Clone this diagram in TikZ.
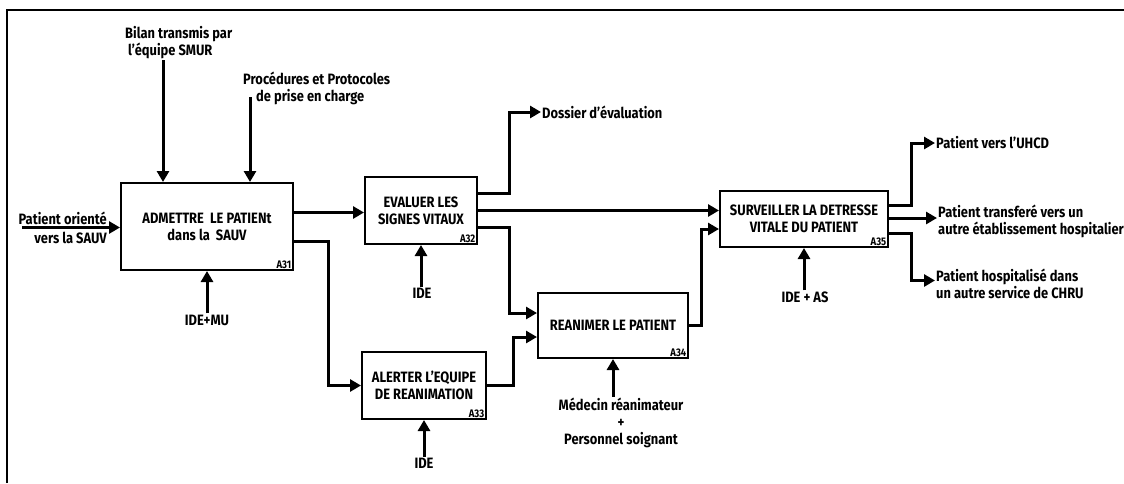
\documentclass[tikz,border=0pt]{standalone}
\usepackage{fontspec}
\setmainfont{Fira Sans}[FakeStretch=0.86]
\usetikzlibrary{arrows.meta}

\begin{document}
\begin{tikzpicture}[x=1pt,y=-1pt]
\tikzset{box/.style = {shape=rectangle,draw,line width=2pt,align=center,inner sep=0pt,font=\bfseries\fontsize{15}{17}\selectfont}}
\tikzset{lbl/.style = {align=center,inner sep=1pt,font=\bfseries\fontsize{15}{17}\selectfont}}
\tikzset{num/.style = {anchor=south east,inner sep=2.5pt,font=\bfseries\fontsize{11}{12}\selectfont}}
\tikzset{arr/.style = {line width=3pt,-{Triangle[length=11pt,width=12pt]}}}
\useasboundingbox (0,0) rectangle (1124,483);
% frame
\draw[line width=2.5pt] (7,483) -- (7,10) -- (1124,10);
% boxes
\node[box,minimum width=172pt,minimum height=87pt] (a31) at (207,226.5) {ADMETTRE\ \ LE PATIENt\\dans la\ \ SAUV};
\node[box,minimum width=112pt,minimum height=67pt] (a32) at (421,210.5) {EVALUER LES\\SIGNES VITAUX};
\node[box,minimum width=124pt,minimum height=67pt] (a33) at (424,385.5) {ALERTER L'EQUIPE\\DE REANIMATION};
\node[box,minimum width=150pt,minimum height=65pt] (a34) at (613,325.5) {REANIMER LE PATIENT};
\node[box,minimum width=168pt,minimum height=56pt] (a35) at (804,219) {SURVEILLER LA DETRESSE\\VITALE DU PATIENT};
\node[num] at (a31.south east) {A31};
\node[num] at (a32.south east) {A32};
\node[num] at (a33.south east) {A33};
\node[num] at (a34.south east) {A34};
\node[num] at (a35.south east) {A35};
% labels
\node[lbl,anchor=west,align=left] (bilan) at (124,43) {Bilan transmis par\\\hspace*{3pt}l'équipe SMUR};
\node[lbl,anchor=west,align=left] (proc) at (242,88.5) {Procédures et Protocoles\\\hspace*{13pt}de prise en charge};
\node[lbl,anchor=east,align=right] (pat) at (108,227.5) {Patient orienté\\[2pt]vers la SAUV};
\node[lbl,anchor=west] (dossier) at (541,112) {Dossier d'évaluation};
\node[lbl,anchor=west] (uhcd) at (935,143) {Patient vers l'UHCD};
\node[lbl,anchor=west,align=left] (transf) at (937,221.5) {Patient transferé vers un\\autre établissement hospitalier};
\node[lbl,anchor=west,align=left] (hosp) at (935,283.5) {Patient hospitalisé dans\\un autre service de CHRU};
\node[lbl] (ide1) at (207,320) {IDE+MU};
\node[lbl] (ide2) at (422,293) {IDE};
\node[lbl] (ide3) at (424,463) {IDE};
\node[lbl] (med) at (621,423) {Médecin réanimateur\\+\\Personnel soignant};
\node[lbl] (ide5) at (805,297) {IDE + AS};
% ports
\coordinate (pin) at (22,227.5);
\coordinate (c1) at ([xshift=-44pt]a31.north);
\coordinate (c2) at (250,97);
\coordinate (p1) at ([yshift=14pt]a31.east);
\coordinate (p2) at ([yshift=-14.5pt]a31.east);
\coordinate (p3) at ([yshift=17.5pt]a32.east);
\coordinate (p4) at ([yshift=-16.5pt]a32.east);
\coordinate (p5) at ([yshift=14pt]a35.east);
\coordinate (p6) at ([yshift=1pt]a35.east);
\coordinate (p7) at ([yshift=-14pt]a35.east);
% edges
\draw[arr] (pin) -- (pin -| a31.west);
\draw[arr] (c1 |- bilan.south) -- (c1);
\draw[arr] (c2) -- (c2 |- a31.north);
\draw[arr] (a31.south |- ide1.north) -- (a31.south);
\draw[arr] (p1) -- (p1 -| a32.west);
\draw[arr] (p2) -- ++(34,0) |- (a33.west);
\draw[arr] (a32.south |- ide2.north) -- (a32.south);
\draw[arr] (p3) -- ++(31,0) |- (dossier.west);
\draw[arr] (a32.east) -- (a32.east -| a35.west);
\draw[arr] (p4) -- ++(31,0) |- ([yshift=12.5pt]a34.west);
\draw[arr] (a33.south |- ide3.north) -- (a33.south);
\draw[arr] (a33.east) -- ++(26,0) |- ([yshift=-11.5pt]a34.west);
\draw[arr] (a34.south |- med.north) -- (a34.south);
\draw[arr] (a34.east) -- ++(12,0) |- ([yshift=-10pt]a35.west);
\draw[arr] (a35.south |- ide5.north) -- (a35.south);
\draw[arr] (p5) -- ++(22,0) |- (uhcd.west);
\draw[arr] (p6) -- (p6 -| transf.west);
\draw[arr] (p7) -- ++(22,0) |- ([yshift=3pt]hosp.west);
\end{tikzpicture}
\end{document}
